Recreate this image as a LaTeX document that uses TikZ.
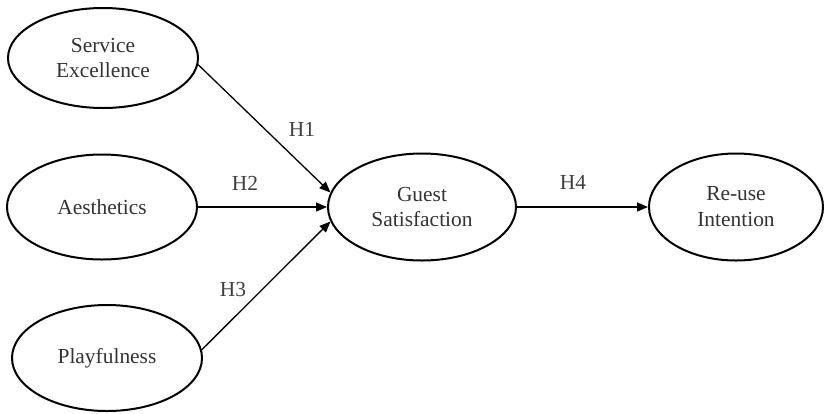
\documentclass[tikz,border=0pt]{standalone}
\usepackage{fontspec}
\setmainfont{Liberation Serif}
\usetikzlibrary{shapes.geometric,arrows.meta}
\begin{document}
\begin{tikzpicture}[x=1bp,y=-1bp,
  construct/.style={ellipse,draw=black,line width=2bp,inner sep=0pt,align=center,
    text=black!80,font=\fontsize{21.5}{26}\selectfont},
  path/.style={line width=1.3bp,-{Triangle[length=11bp,width=9bp]}},
  hlabel/.style={text=black!75,font=\fontsize{21.5}{25}\selectfont,inner sep=0pt}]
\useasboundingbox (0,0) rectangle (827,413);
\node[construct,minimum width=190bp,minimum height=100bp] (se) at (103,58) {Service\\Excellence};
\node[construct,minimum width=190bp,minimum height=105bp] (ae) at (102,207) {Aesthetics};
\node[construct,minimum width=190bp,minimum height=106bp] (pf) at (107,358) {Playfulness};
\node[construct,minimum width=188bp,minimum height=107bp] (gs) at (422,207) {Guest\\Satisfaction};
\node[construct,minimum width=174bp,minimum height=107bp] (ri) at (736,207) {Re-use\\Intention};
\draw[path] (se.-4) -- (gs.171);
\draw[path] (ae.east) -- (gs.west);
\draw[path] (pf.5) -- (gs.189);
\draw[path] (gs.east) -- (ri.west);
\node[hlabel] (h1) at (302,129) {H1};
\node[hlabel] (h2) at (245,183) {H2};
\node[hlabel] (h3) at (233,290) {H3};
\node[hlabel] (h4) at (573,182) {H4};
\end{tikzpicture}
\end{document}
